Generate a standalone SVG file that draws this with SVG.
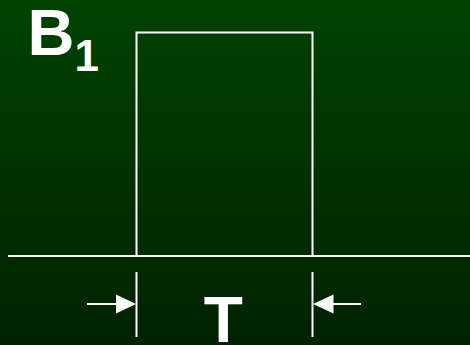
<svg xmlns="http://www.w3.org/2000/svg" width="470" height="345" viewBox="0 0 470 345">
<defs>
<linearGradient id="bg" x1="0" y1="0" x2="0" y2="1">
<stop offset="0" stop-color="#004200"/>
<stop offset="1" stop-color="#002200"/>
</linearGradient>
<style>
.ln{stroke:#ffffff;stroke-width:2;fill:none}
.tx{font-family:"Liberation Sans",Arial,sans-serif;font-weight:bold;fill:#ffffff}
</style>
</defs>
<rect width="470" height="345" fill="url(#bg)"/>
<g id="pulse">
<polyline class="ln" points="136.5,256 136.5,32.5 312.5,32.5 312.5,256"/>
</g>
<g id="axis">
<line class="ln" x1="8" y1="256" x2="470" y2="256"/>
</g>
<g id="label-B1">
<text class="tx" x="27.5" y="54.5" font-size="65">B</text>
<text class="tx" x="74.5" y="70.5" font-size="44">1</text>
</g>
<g id="connectors">
<line class="ln" x1="136.5" y1="272" x2="136.5" y2="337"/>
<line class="ln" x1="312.5" y1="272" x2="312.5" y2="337"/>
<line class="ln" x1="87" y1="304" x2="120" y2="304"/>
<polygon points="136,304 116,294.5 116,313.5" fill="#ffffff"/>
<line class="ln" x1="361" y1="304" x2="330" y2="304"/>
<polygon points="313,304 333.5,294.5 333.5,313.5" fill="#ffffff"/>
</g>
<g id="label-T">
<text class="tx" x="223.3" y="342" font-size="64" text-anchor="middle">T</text>
</g>
</svg>
